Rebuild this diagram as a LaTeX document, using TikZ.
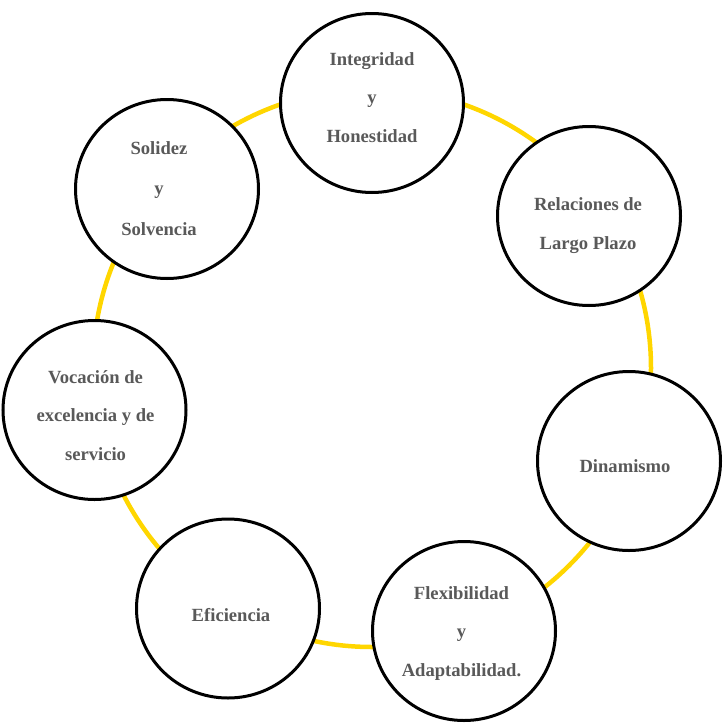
\documentclass[tikz,border=0pt]{standalone}
\usepackage{fontspec}
\setmainfont{Liberation Serif}
\usetikzlibrary{shapes.geometric}
\definecolor{ringyellow}{RGB}{255,214,0}
\definecolor{textgray}{RGB}{89,89,89}
\begin{document}
\begin{tikzpicture}[x=1pt,y=-1pt,
  bubble/.style={ellipse, draw=black, line width=3pt, fill=white,
    minimum width=183pt, minimum height=179pt, inner sep=0pt},
  bubbletext/.style={align=center, text=textgray, inner sep=0pt,
    font=\fontsize{18.6pt}{38.5pt}\selectfont\bfseries},
  ringstyle/.style={circle, draw=ringyellow, line width=4.5pt,
    minimum size=558pt, inner sep=0pt}]
\useasboundingbox (0,0) rectangle (723,723);
\node[ringstyle] (ring) at (372,368) {};
\node[bubble] (c1) at (372,103) {};
\node[bubble] (c2) at (589,216) {};
\node[bubble] (c3) at (629,461) {};
\node[bubble] (c4) at (464,631) {};
\node[bubble] (c5) at (228,608.5) {};
\node[bubble] (c6) at (94.5,410) {};
\node[bubble] (c7) at (167,189) {};
\node[bubbletext] (t1) at (372,97.2) {Integridad\\y\\Honestidad};
\node[bubbletext] (t2) at (588,225.8) {Relaciones de\\Largo Plazo};
\node[bubbletext, anchor=base] (t3) at (625,472.7) {Dinamismo};
\node[bubbletext] (t4) at (461.5,633.1) {Flexibilidad\\y\\Adaptabilidad.};
\node[bubbletext, anchor=base] (t5) at (231,621.7) {Eficiencia};
\node[bubbletext] (t6) at (95.5,415.2) {Vocación de\\excelencia y de\\servicio};
\node[bubbletext, font=\fontsize{18.6pt}{40.5pt}\selectfont\bfseries] (t7) at (159,188.2) {Solidez\\y\\Solvencia};
\end{tikzpicture}
\end{document}
